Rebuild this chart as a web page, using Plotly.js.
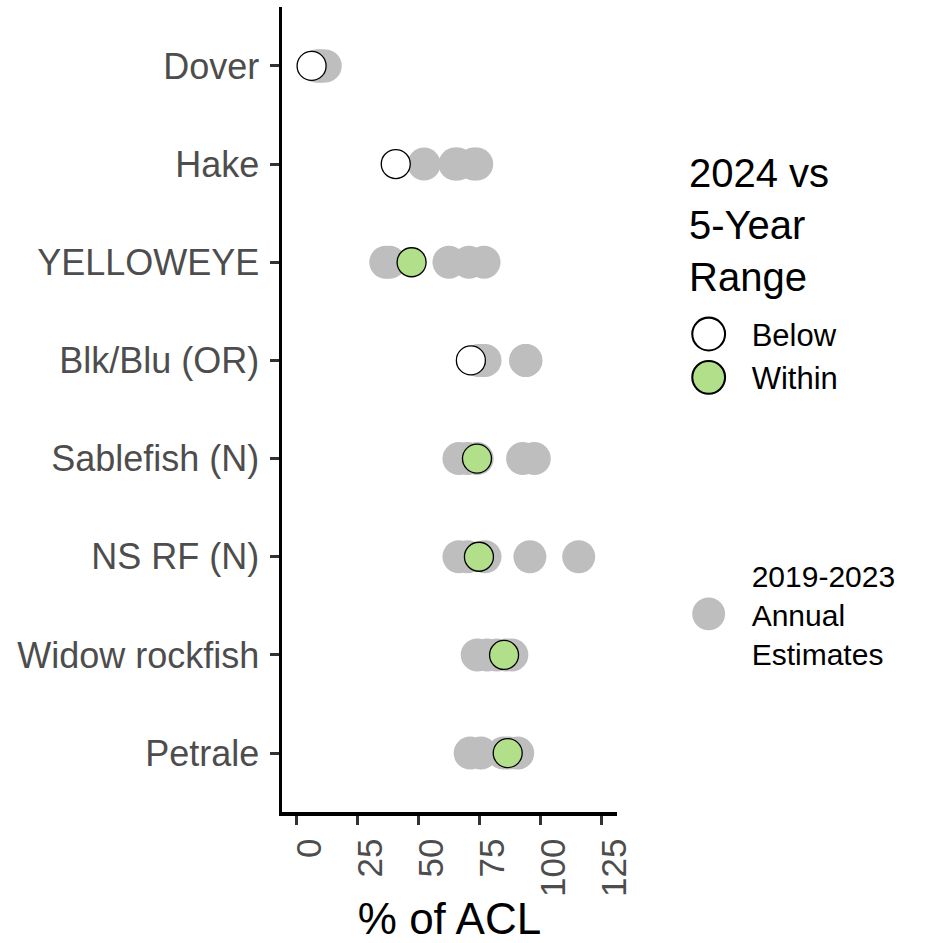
<!DOCTYPE html>
<html>
<head>
<meta charset="utf-8">
<script src="https://cdn.plot.ly/plotly-3.0.1.min.js"></script>
<style>html,body{margin:0;padding:0;background:#fff;}</style>
</head>
<body>
<div id="chart" style="width:930px;height:943px;"></div>
<script>
// Categories (top to bottom)
const categories = ['Dover','Hake','YELLOWEYE','Blk/Blu (OR)','Sablefish (N)','NS RF (N)','Widow rockfish','Petrale'];

// 2019-2023 annual estimates (% of ACL), five per stock
const doverAnnual     = [8, 9, 9.5, 10.5, 11.7];
const hakeAnnual      = [52.2, 64.9, 66, 72.6, 73.8];
const yelloweyeAnnual = [36.5, 38, 62.4, 70.6, 76.8];
const blkbluAnnual    = [74.5, 76, 77.2, 93.8, 94];
const sablefishAnnual = [66.5, 70, 74, 92.6, 97.4];
const nsrfAnnual      = [66.5, 70, 77.2, 95.6, 115.6];
const widowAnnual     = [74, 78, 82, 86, 88.2];
const petraleAnnual   = [71.1, 75.5, 84.7, 87, 90.6];

// 2024 values (% of ACL) and status vs 5-year range
const value2024  = [6.1, 40.6, 47.1, 71.4, 73.9, 74.7, 85, 86.5];
const status2024 = ['Below','Below','Within','Below','Within','Within','Within','Within'];

// x-axis ticks
const xTicks = [0, 25, 50, 75, 100, 125];

const annualByStock = [doverAnnual, hakeAnnual, yelloweyeAnnual, blkbluAnnual,
                       sablefishAnnual, nsrfAnnual, widowAnnual, petraleAnnual];

const grayX = [], grayY = [];
annualByStock.forEach((arr, i) => arr.forEach(v => { grayX.push(v); grayY.push(categories[i]); }));

const FONT = 'Liberation Sans, Arial, sans-serif';

function statusTrace(name, color) {
  const x = [], y = [];
  value2024.forEach((v, i) => { if (status2024[i] === name) { x.push(v); y.push(categories[i]); } });
  return {
    type: 'scatter', mode: 'markers', name: name, x: x, y: y,
    legend: 'legend',
    marker: {size: 29, color: color, line: {color: '#000000', width: 1.3}},
    hoverinfo: 'x+y'
  };
}

const traces = [
  {
    type: 'scatter', mode: 'markers', name: '2019-2023<br>Annual<br>Estimates',
    x: grayX, y: grayY, legend: 'legend2',
    marker: {size: 33, color: '#BEBEBE'},
    hoverinfo: 'x+y'
  },
  statusTrace('Below', '#FFFFFF'),
  statusTrace('Within', '#B2DF8A')
];

const layout = {
  width: 930, height: 943,
  paper_bgcolor: '#FFFFFF', plot_bgcolor: '#FFFFFF',
  margin: {l: 282, r: 313, t: 7, b: 131, pad: 0},
  font: {family: FONT, color: '#000000'},
  showlegend: true,
  xaxis: {
    range: [-6.03, 131.3],
    tickvals: xTicks, ticktext: xTicks.map(String),
    tickangle: -90, ticklabelshift: 13,
    tickfont: {size: 35, color: '#4D4D4D', family: FONT},
    ticks: 'outside', ticklen: 9, tickwidth: 3, tickcolor: '#333333',
    showline: true, linecolor: '#000000', linewidth: 3.5,
    showgrid: false, zeroline: false,
    title: {text: '% of ACL', font: {size: 44, color: '#000000', family: FONT}, standoff: 10}
  },
  yaxis: {
    type: 'category',
    categoryorder: 'array', categoryarray: categories,
    range: [7.6, -0.6],
    tickfont: {size: 36, color: '#4D4D4D', family: FONT},
    ticks: 'outside', ticklen: 9, tickwidth: 3, tickcolor: '#333333',
    ticklabelstandoff: 3,
    showline: true, linecolor: '#000000', linewidth: 3.5,
    showgrid: false, zeroline: false
  },
  annotations: [{
    xref: 'paper', yref: 'paper', x: 1.209, y: 0.824, xanchor: 'left', yanchor: 'top',
    align: 'left', showarrow: false,
    text: '2024 vs<br>5-Year<br>Range',
    font: {size: 40, color: '#000000', family: FONT}
  }],
  legend: {
    x: 1.205, xanchor: 'left', y: 0.5666, yanchor: 'middle',
    font: {size: 31, color: '#000000', family: FONT},
    itemwidth: 56, bgcolor: 'rgba(0,0,0,0)', borderwidth: 0,
    traceorder: 'normal'
  },
  legend2: {
    x: 1.205, xanchor: 'left', y: 0.246, yanchor: 'middle',
    font: {size: 30, color: '#000000', family: FONT},
    itemwidth: 56, bgcolor: 'rgba(0,0,0,0)', borderwidth: 0
  }
};

Plotly.newPlot('chart', traces, layout, {displayModeBar: false, staticPlot: true}).then(() => {
  // enlarge legend symbols to match the plotted marker size
  document.querySelectorAll('.legendpoints path.scatterpts').forEach(p => {
    const t = p.getAttribute('transform') || '';
    p.setAttribute('transform', t + ' translate(-10,0) scale(2.05)');
    const sw = parseFloat(p.style.strokeWidth) || 0;
    if (sw > 0) p.style.strokeWidth = (sw / 2.05 * 1.6) + 'px';
  });
});
</script>
</body>
</html>
